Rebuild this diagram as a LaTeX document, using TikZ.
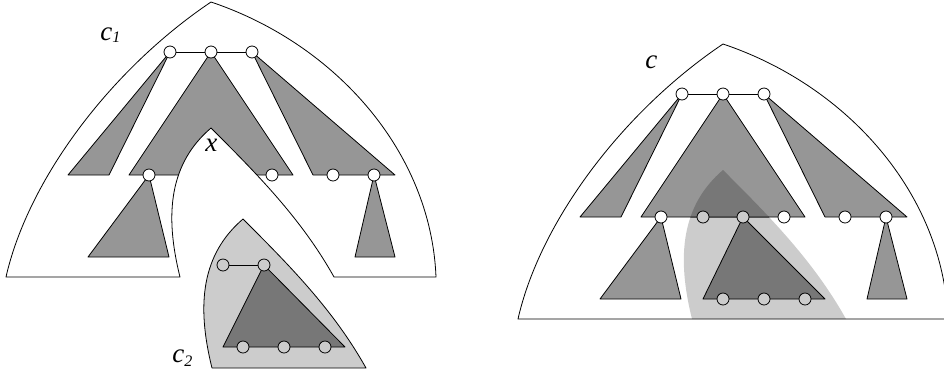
\documentclass[tikz,border=0pt]{standalone}
\usepackage{fontspec}
\setmainfont{Liberation Serif}
\definecolor{tg}{HTML}{969696}
\definecolor{tl}{HTML}{CCCCCC}
\definecolor{td}{HTML}{777777}
% outline of a cell, apex at (0,-50), base at y=225
\newcommand\archpath{(-205,225) .. controls (-183,128) and (-101,18) .. (0,-50) .. controls (125,-8) and (220,100) .. (225,225)}
% notch left by the piece c2 (apex at (0,76))
\newcommand\notchpath{-- (123,225) .. controls (90,166) and (45,121) .. (0,76) .. controls (-41,111) and (-47,161) .. (-31,225) -- cycle}
% the piece c2, apex at (0,0)
\newcommand\cellpath{(0,0) .. controls (45,45) and (90,90) .. (123,149) -- (-31,149) .. controls (-47,85) and (-41,35) .. (0,0) -- cycle}

\begin{document}
\begin{tikzpicture}[x=1pt,y=-1pt,line width=0.8pt,line join=round,
  vtx/.style={circle,draw,fill=white,minimum size=12pt,inner sep=0pt,line width=0.8pt},
  tri/.style={draw,fill=tg},
  lbl/.style={anchor=base west,inner sep=0pt,font=\fontsize{27}{27}\selectfont\itshape}]
  \useasboundingbox (0,0) rectangle (944,376);

  % Left: cell c1, with c2 cut out
  \begin{scope}[shift={(211,52)}]
    \begin{scope}
      \clip \archpath \notchpath;
      \draw[tri] (-41,0) -- (-143,123) -- (-102,123) -- cycle;
      \draw[tri] (0,0) -- (-82,123) -- (82,123) -- cycle;
      \draw[tri] (41,0) -- (102,123) -- (184,123) -- cycle;
      \draw[tri] (-62,123) -- (-123,205) -- (-42,205) -- cycle;
      \draw[tri] (163,123) -- (144,205) -- (184,205) -- cycle;
    \end{scope}
    \draw \archpath \notchpath;
    \foreach \x [count=\i] in {-41,0,41} \node[vtx] (lt\i) at (\x,0) {};
    \draw (lt1) -- (lt2) -- (lt3);
    \foreach \x [count=\i] in {-62,61,122,163} \node[vtx] (lb\i) at (\x,123) {};
  \end{scope}

  % Left: the piece c2
  \begin{scope}[shift={(243,219)}]
    \draw[fill=tl] \cellpath;
    \draw[fill=td] (21,46) -- (-20,128) -- (102,128) -- cycle;
    \foreach \x [count=\i] in {-20,21} \node[vtx,fill=tl] (st\i) at (\x,46) {};
    \draw (st1) -- (st2);
    \foreach \x [count=\i] in {0,41,82} \node[vtx,fill=tl] (sb\i) at (\x,128) {};
  \end{scope}

  % Right: cell c, with c2 laid over it
  \begin{scope}[shift={(723,94)}]
    \fill[tl,shift={(0,76)}] \cellpath;
    \draw[tri] (-41,0) -- (-143,123) -- (-102,123) -- cycle;
    \draw[tri] (0,0) -- (-82,123) -- (82,123) -- cycle;
    \draw[tri] (41,0) -- (102,123) -- (184,123) -- cycle;
    \draw[tri] (-62,123) -- (-123,205) -- (-42,205) -- cycle;
    \draw[tri] (163,123) -- (144,205) -- (184,205) -- cycle;
    \begin{scope}
      \clip[shift={(0,76)}] \cellpath;
      \draw[fill=td] (0,0) -- (-82,123) -- (82,123) -- cycle;
    \end{scope}
    \draw[fill=td] (20,123) -- (-20,205) -- (102,205) -- cycle;
    \draw \archpath -- cycle;
    \foreach \x [count=\i] in {-41,0,41} \node[vtx] (rt\i) at (\x,0) {};
    \draw (rt1) -- (rt2) -- (rt3);
    \foreach \x/\c [count=\i] in {-62/white,-20/tl,20/tl,61/white,122/white,163/white}
      \node[vtx,fill=\c] (rb\i) at (\x,123) {};
    \foreach \x [count=\i] in {0,41,82} \node[vtx,fill=tl] (rl\i) at (\x,205) {};
  \end{scope}

  % Labels
  \node[lbl] (c1) at (100,40) {c\raisebox{-2pt}{\fontsize{16}{16}\selectfont 1}};
  \node[lbl] (c2) at (172,362) {c\raisebox{-4pt}{\fontsize{16}{16}\selectfont 2}};
  \node[lbl] (xl) at (205,151) {x};
  \node[lbl] (cl) at (645,68) {c};
\end{tikzpicture}
\end{document}
